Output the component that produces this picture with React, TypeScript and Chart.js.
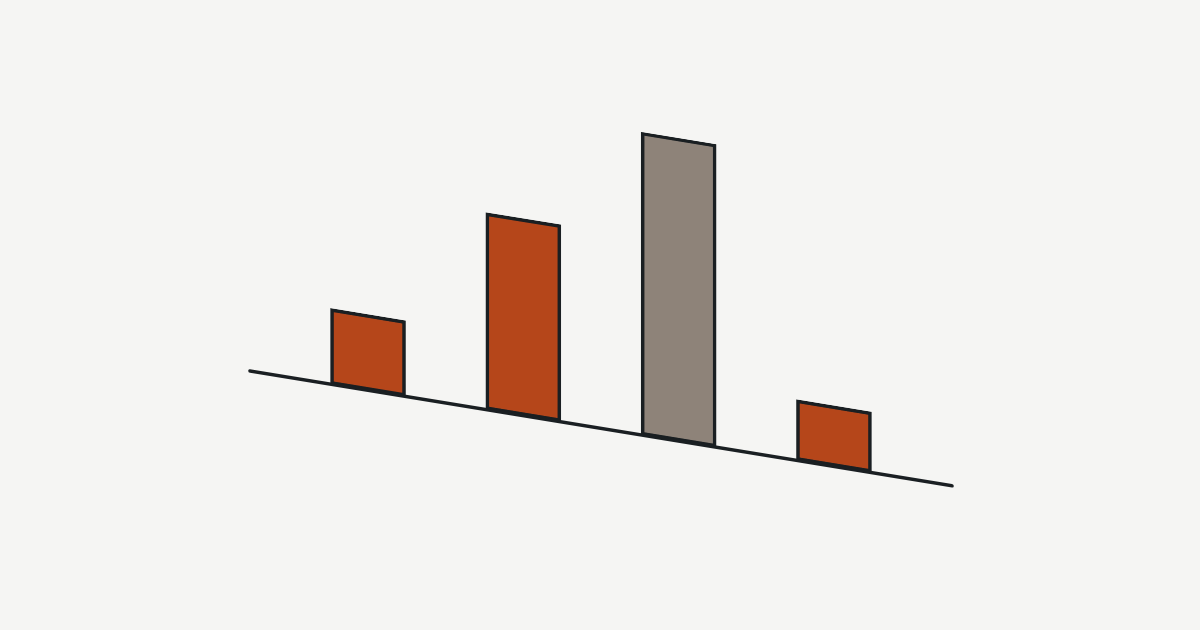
import React, { useEffect, useRef } from "react";
import { Chart, registerables } from "chart.js";

Chart.register(...registerables);

const categories = ["A", "B", "C", "D"];
const positions = [1, 2, 3, 4];
const values = [25, 65, 100, 20];
const barColors = ["#b5461a", "#b5461a", "#8e8379", "#b5461a"];

const SHEAR = 0.1635;
const INK = "#1a1f22";

const shearPlugin = {
  id: "shear",
  beforeDatasetsDraw(chart: any) {
    const { ctx, chartArea } = chart;
    ctx.save();
    ctx.translate(0, -SHEAR * chartArea.left);
    ctx.transform(1, SHEAR, 0, 1, 0, 0);
  },
  afterDatasetsDraw(chart: any) {
    const { ctx, chartArea, scales } = chart;
    const y0 = scales.y.getPixelForValue(0);
    ctx.beginPath();
    ctx.moveTo(chartArea.left, y0);
    ctx.lineTo(chartArea.right, y0);
    ctx.lineWidth = 3.6;
    ctx.strokeStyle = INK;
    ctx.lineCap = "round";
    ctx.stroke();
    ctx.restore();
  },
};

export default function App() {
  const ref = useRef<HTMLCanvasElement>(null);
  useEffect(() => {
    if (!ref.current) return;
    const chart = new Chart(ref.current, {
      type: "bar",
      data: {
        labels: categories,
        datasets: [
          {
            data: positions.map((x, i) => ({ x, y: values[i] })) as any,
            backgroundColor: barColors,
            borderColor: INK,
            borderWidth: 3.6,
            borderSkipped: false,
            barThickness: 75,
          },
        ],
      },
      options: {
        animation: false,
        responsive: false,
        maintainAspectRatio: false,
        layout: { padding: { top: 68, bottom: 259, left: 250, right: 248 } },
        plugins: { legend: { display: false }, tooltip: { enabled: false } },
        scales: {
          x: { type: "linear", offset: false, min: 0.24, max: 4.76, display: false },
          y: { min: 0, max: 100, display: false },
        },
      },
      plugins: [shearPlugin],
    });
    return () => chart.destroy();
  }, []);
  return (
    <div style={{ position: "fixed", left: 0, top: 0, width: 1200, height: 630, background: "#f5f5f3" }}>
      <canvas ref={ref} width={1200} height={630} style={{ width: 1200, height: 630, display: "block" }} />
    </div>
  );
}
